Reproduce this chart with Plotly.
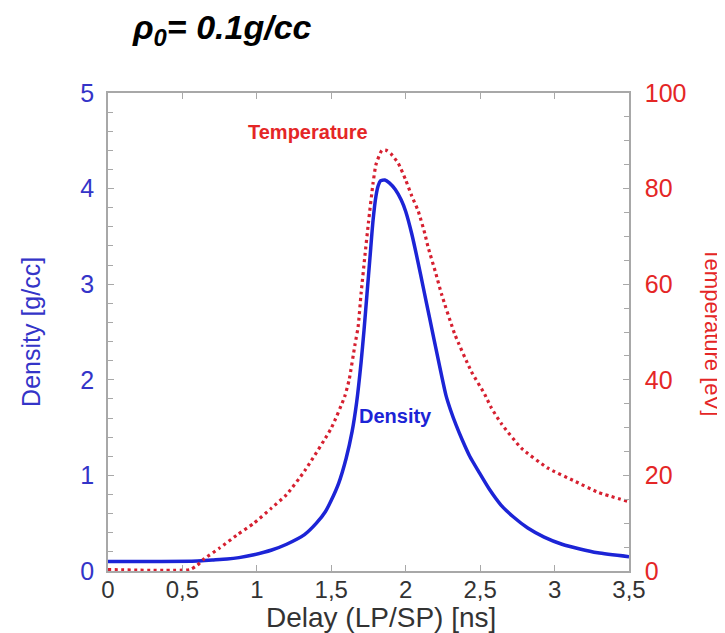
import plotly.graph_objects as go

# ---- data ----
delay_density = [0, 0.3, 0.6, 0.7, 0.8, 0.88, 0.98, 1.1, 1.2, 1.32, 1.4, 1.46, 1.5, 1.55, 1.6, 1.64,
                 1.67, 1.7, 1.72, 1.74, 1.76, 1.78, 1.8, 1.815, 1.83, 1.86, 1.89, 1.93, 1.97, 2.0,
                 2.04, 2.08, 2.12, 2.16, 2.22, 2.27, 2.3, 2.34, 2.38, 2.43, 2.49, 2.56, 2.64, 2.72,
                 2.82, 2.93, 3.05, 3.17, 3.29, 3.5]
density = [0.1, 0.1, 0.105, 0.115, 0.125, 0.14, 0.17, 0.22, 0.28, 0.38, 0.5, 0.62, 0.74, 0.92, 1.18, 1.46,
           1.76, 2.18, 2.52, 2.9, 3.28, 3.66, 3.92, 4.03, 4.08, 4.09, 4.06, 3.99, 3.88, 3.76,
           3.53, 3.25, 2.95, 2.65, 2.2, 1.84, 1.69, 1.52, 1.37, 1.2, 1.04, 0.86, 0.69, 0.57,
           0.45, 0.355, 0.28, 0.23, 0.19, 0.15]

delay_temp = [0, 0.55, 0.6, 0.64, 0.75, 0.865, 0.98, 1.1, 1.2, 1.32, 1.5, 1.59, 1.62, 1.66, 1.68, 1.7,
              1.726, 1.75, 1.78, 1.8, 1.84, 1.87, 1.9, 1.95, 2.0, 2.04, 2.084, 2.13, 2.15, 2.2, 2.24,
              2.33, 2.44, 2.53, 2.576, 2.643, 2.777, 2.956, 3.135, 3.29, 3.5]
temperature = [0.3, 0.3, 1.2, 2.4, 4.8, 7.5, 10, 13.2, 16, 20.9, 29.9, 36.5, 40, 47.5, 51, 58,
               66, 73, 81, 85, 88, 88, 87.3, 85.3, 81.8, 78.5, 75.3, 70.4, 67.8, 62.5, 58,
               49.5, 41.8, 37, 34.1, 30.8, 25.7, 21.5, 18.8, 16.5, 14.5]

x_tick_vals = [0, 0.5, 1, 1.5, 2, 2.5, 3, 3.5]
x_tick_text = ["0", "0,5", "1", "1,5", "2", "2,5", "3", "3,5"]

BLUE = "rgb(28,36,214)"
BLUE_TXT = "rgb(52,52,200)"
RED = "rgb(214,32,48)"
RED_TXT = "rgb(228,38,38)"
GRID = "#a8a8a8"
FONT = "Liberation Sans, Arial, sans-serif"

fig = go.Figure()
fig.add_trace(go.Scatter(x=delay_density, y=density, mode="lines",
                         line=dict(color=BLUE, width=3.5, shape="spline", smoothing=0.6),
                         yaxis="y", showlegend=False))
fig.add_trace(go.Scatter(x=delay_temp, y=temperature, mode="lines",
                         line=dict(color=RED, width=3.2, dash="3px,3.5px", shape="spline", smoothing=0.5),
                         yaxis="y2", showlegend=False))

axis_common = dict(showgrid=False, zeroline=False, showline=True, linecolor=GRID, linewidth=1.5,
                   ticks="inside", ticklen=6, tickwidth=1.2, tickcolor=GRID)

fig.update_layout(
    width=725, height=633,
    margin=dict(l=100, r=104, t=85, b=70),
    paper_bgcolor="white", plot_bgcolor="white",
    font=dict(family=FONT),
    xaxis=dict(range=[0, 3.5], tickvals=x_tick_vals, ticktext=x_tick_text, mirror="ticks",
               tickfont=dict(size=24, color="#333333"), ticklabelstandoff=-4, **axis_common),
    yaxis=dict(range=[0, 5], dtick=1, tickfont=dict(size=25, color=BLUE_TXT), ticklabelstandoff=7,
               minor=dict(dtick=0.2, ticks="inside", ticklen=5, tickcolor=GRID, tickwidth=1),
               **axis_common),
    yaxis2=dict(range=[0, 100], dtick=20, overlaying="y", side="right",
                tickfont=dict(size=25, color=RED_TXT), ticklabelstandoff=9,
                minor=dict(dtick=5, ticks="inside", ticklen=5, tickcolor=GRID, tickwidth=1),
                **axis_common),
    annotations=[
        dict(text="<b><i>ρ<sub>0</sub>= 0.1g/cc</i></b>", xref="paper", yref="paper",
             x=0.042, y=1.132, xanchor="left", yanchor="middle", showarrow=False,
             font=dict(size=34, color="black", family=FONT)),
        dict(text="<b>Temperature</b>", xref="x", yref="y", x=1.345, y=4.59, showarrow=False,
             font=dict(size=20, color=RED_TXT, family=FONT)),
        dict(text="<b>Density</b>", xref="x", yref="y", x=1.93, y=1.62, showarrow=False,
             font=dict(size=20, color=BLUE, family=FONT)),
        dict(text="Delay (LP/SP) [ns]", xref="paper", yref="paper", x=0.524, y=-0.097,
             showarrow=False, yanchor="middle", font=dict(size=28, color="#333333", family=FONT)),
        dict(text="Density [g/cc]", xref="paper", yref="paper", x=-0.148, y=0.5, textangle=-90,
             showarrow=False, xanchor="center", font=dict(size=25, color=BLUE_TXT, family=FONT)),
        dict(text="Temperature [eV]", xref="paper", yref="paper", x=1.162, y=0.5, textangle=90,
             showarrow=False, xanchor="center", font=dict(size=22, color=RED_TXT, family=FONT)),
    ],
)

fig.write_html("out.html")
